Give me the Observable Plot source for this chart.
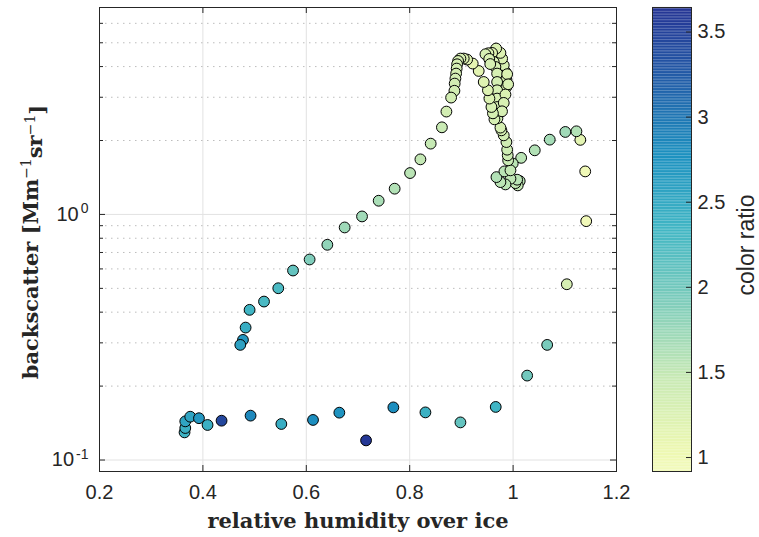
<!DOCTYPE html>
<html><head><meta charset="utf-8">
<script src="https://cdn.jsdelivr.net/npm/d3@7"></script>
<script src="https://cdn.jsdelivr.net/npm/@observablehq/plot@0.6"></script>
<style>
body{margin:0;background:#fff}
#wrap{position:relative;width:759px;height:537px;overflow:hidden}
#wrap svg{position:absolute;left:0;top:0;background:transparent}
</style></head><body><div id="wrap"></div>
<script>
// relative humidity over ice
const rh = [0.3645,0.3659,0.3659,0.3755,0.3924,0.4090,0.4361,0.4922,0.5517,0.6130,0.6639,0.7156,0.7684,0.8304,0.8981,0.9664,
1.0272,1.0659,1.1039,1.1414,1.1395,1.1300,1.1225,1.1010,1.0709,1.0419,1.0156,0.9993,
1.0128,1.0090,1.0045,1.0078,0.9949,0.9852,0.9755,0.9678,0.9832,0.9949,
0.9904,0.9896,0.9885,0.9871,0.9819,0.9774,0.9755,
0.9722,0.9755,0.9832,0.9871,0.9871,0.9852,0.9819,0.9788,0.9755,0.9672,0.9594,0.9523,0.9465,0.9625,0.9658,0.9691,0.9691,0.9691,0.9691,0.9691,0.9697,
0.9885,0.9904,0.9852,0.9819,0.9786,0.9538,0.9558,
0.9639,0.9610,0.9581,0.9542,0.9513,0.9432,0.9335,0.9219,0.9111,0.9045,0.8981,0.8936,0.8917,0.8909,0.8898,0.8884,0.8870,
0.8865,0.8801,0.8710,0.8623,0.8406,0.8207,0.8007,0.7709,0.7400,0.7078,0.6742,0.6407,0.6064,0.5743,0.5458,0.5182,0.4903,0.4826,0.4775,0.4723];
// backscatter [Mm^-1 sr^-1]
const bsc = [0.1296,0.1350,0.1437,0.1501,0.1480,0.1389,0.1446,0.1516,0.1402,0.1456,0.1559,0.1202,0.1638,0.1563,0.1423,0.1645,
0.2207,0.2943,0.5197,0.939,1.497,2.012,2.180,2.167,2.016,1.824,1.700,1.612,
1.367,1.313,1.341,1.385,1.398,1.325,1.354,1.419,1.497,1.512,
1.660,1.740,1.835,1.971,2.099,2.200,2.257,
2.612,2.870,3.105,3.304,3.541,3.803,4.050,4.312,4.547,4.738,4.547,4.533,4.490,4.178,3.986,3.746,3.462,3.203,2.963,2.738,2.462,
3.725,3.388,3.078,2.846,2.630,4.297,4.096,
2.439,2.580,2.738,2.963,3.203,3.462,3.839,4.115,4.272,4.312,4.312,4.217,4.088,3.926,3.746,3.574,3.410,
3.188,2.991,2.623,2.263,1.942,1.676,1.474,1.273,1.137,0.9814,0.8851,0.7523,0.6555,0.5910,0.5006,0.4418,0.4088,0.3462,0.3084,0.2943];
// color ratio
const ratio = [2.38,2.42,2.55,2.55,2.70,2.42,3.45,2.85,2.45,2.80,2.75,3.60,2.80,2.40,2.10,2.35,
2.00,1.95,1.30,0.95,0.97,1.15,1.60,1.70,1.68,1.60,1.55,1.55,
1.55,1.50,1.50,1.55,1.52,1.55,1.55,1.60,1.55,1.50,
1.45,1.40,1.40,1.38,1.35,1.32,1.30,
1.28,1.25,1.22,1.25,1.28,1.30,1.28,1.25,1.22,1.25,1.20,1.25,1.30,1.28,1.30,1.30,1.32,1.30,1.28,1.30,1.35,
1.25,1.28,1.25,1.28,1.30,1.28,1.30,
1.30,1.30,1.28,1.25,1.22,1.20,1.15,1.12,1.20,1.25,1.28,1.30,1.30,1.32,1.32,1.35,1.35,
1.35,1.35,1.35,1.45,1.48,1.50,1.55,1.60,1.65,1.70,1.72,1.80,1.90,2.10,2.27,2.28,2.35,2.45,2.70,2.60];

const xTicks = [0.2,0.4,0.6,0.8,1,1.2];
const xGrid = [0.4,0.6,0.8,1];
const yMajor = [0.1,1];
const yMinor = [0.2,0.3,0.4,0.5,0.6,0.7,0.8,0.9,2,3,4,5,6];
const cTicks = [1,1.5,2,2.5,3,3.5];
const xDomain = [0.2,1.2];
const yDomain = [0.0898,6.96];
const cDomain = [0.918,3.644];
const xLabel = "relative humidity over ice";
const yLabelParts = [["backscatter [Mm",""],["−1","sup"],["sr",""],["−1","sup"],["]",""]];
const cLabel = "color ratio";

const W = 759, H = 537, ML = 99, MR = 143, MT = 7, MB = 66;
const PW = W - ML - MR, PH = H - MT - MB;
const sans = "'Liberation Sans', Arial, Helvetica, sans-serif";
const serif = "'DejaVu Serif', 'Liberation Serif', serif";
const ink = "#262626";

const ylgnbu = d3.piecewise(d3.interpolateRgb, ["#ffffd9","#edf8b1","#c7e9b4","#7fcdbb","#41b6c4","#1d91c0","#225ea8","#253494","#081d58"]);
const cmap = t => ylgnbu(0.09 + 0.785 * t);
const colorScale = {type: "linear", domain: cDomain, interpolate: cmap, clamp: true};

const points = rh.map((x, i) => ({x, y: bsc[i], c: ratio[i]}));

const main = Plot.plot({
  width: W, height: H,
  marginLeft: ML, marginRight: MR, marginTop: MT, marginBottom: MB,
  style: {fontFamily: sans, fontSize: "20px", color: ink, background: "transparent"},
  x: {domain: xDomain, label: null},
  y: {type: "log", domain: yDomain, label: null},
  color: colorScale,
  marks: [
    Plot.ruleX(xGrid, {x: d => d, stroke: "#e2e2e2", strokeWidth: 1}),
    Plot.ruleY(yMajor, {y: d => d, stroke: "#e2e2e2", strokeWidth: 1}),
    Plot.ruleY(yMinor, {y: d => d, stroke: "#bdbdbd", strokeWidth: 1, strokeDasharray: "1.5,4.5"}),
    Plot.tickX(xTicks, {x: d => d, insetTop: PH - 6, stroke: ink}),
    Plot.tickX(xTicks, {x: d => d, insetBottom: PH - 6, stroke: ink}),
    Plot.tickY(yMajor, {y: d => d, insetRight: PW - 6, stroke: ink}),
    Plot.tickY(yMajor, {y: d => d, insetLeft: PW - 6, stroke: ink}),
    Plot.tickY(yMinor, {y: d => d, insetRight: PW - 4, stroke: ink}),
    Plot.tickY(yMinor, {y: d => d, insetLeft: PW - 4, stroke: ink}),
    Plot.dot(points, {x: "x", y: "y", fill: "c", r: 5.4, stroke: "#000", strokeWidth: 1}),
    Plot.frame({stroke: ink, strokeWidth: 1}),
    Plot.axisX(xTicks, {tickSize: 0, tickPadding: 13, fontSize: 20, fill: ink, tickFormat: d => String(d)}),
    Plot.axisY(yMajor, {tickSize: 0, tickPadding: 11, fontSize: 20, fill: ink, tickFormat: d => "10^" + Math.round(Math.log10(d))}),
    Plot.text([xLabel], {frameAnchor: "bottom", dy: 56, text: d => d, fontFamily: serif, fontWeight: "bold", fontSize: 21, fill: ink})
  ]
});

const svg = d3.select(main);
// superscript exponents on the y tick labels
svg.selectAll('g[aria-label="y-axis tick label"] text').each(function() {
  const t = d3.select(this);
  const s = t.text();
  if (s.indexOf("^") < 0) return;
  const [base, ex] = s.split("^");
  t.text(null);
  t.append("tspan").text(base);
  t.append("tspan").attr("dy", "-0.55em").attr("font-size", "14px").attr("dx", "2").text(ex);
});
// y axis label with superscripts
const yl = svg.append("text")
  .attr("transform", `translate(38,${MT + PH / 2 + 3}) rotate(-90)`)
  .attr("text-anchor", "middle")
  .attr("font-family", serif).attr("font-weight", "bold").attr("font-size", 21).attr("fill", ink);
yLabelParts.forEach(([s, kind], i) => {
  const ts = yl.append("tspan").text(s);
  if (kind === "sup") ts.attr("dy", "-0.5em").attr("font-size", 14).attr("font-weight", "normal");
  else if (i > 0 && yLabelParts[i - 1][1] === "sup") ts.attr("dy", "0.5em");
});

// colour bar
const CBL = 652, CBR = 691;
const steps = d3.range(300).map(i => cDomain[0] + (cDomain[1] - cDomain[0]) * i / 300);
const dv = (cDomain[1] - cDomain[0]) / 300;
const cb = Plot.plot({
  width: W, height: H,
  marginLeft: CBL, marginRight: W - CBR, marginTop: MT, marginBottom: MB,
  style: {fontFamily: sans, fontSize: "20px", color: ink, background: "transparent"},
  x: {domain: [0, 1], axis: null},
  y: {domain: cDomain, label: null},
  color: colorScale,
  marks: [
    Plot.rect(steps, {x1: 0, x2: 1, y1: d => d, y2: d => d + dv * 1.02, fill: d => d + dv / 2}),
    Plot.tickY(cTicks, {y: d => d, insetLeft: (CBR - CBL) - 5, stroke: ink}),
    Plot.frame({stroke: ink, strokeWidth: 1}),
    Plot.axisY(cTicks, {anchor: "right", tickSize: 0, tickPadding: 6, fontSize: 20, fill: ink, tickFormat: d => String(d)})
  ]
});
d3.select(cb).append("text")
  .attr("transform", `translate(754,${MT + PH / 2 + 6}) rotate(-90)`)
  .attr("text-anchor", "middle")
  .attr("font-family", sans).attr("font-size", 23).attr("fill", ink)
  .text(cLabel);

const wrap = document.getElementById("wrap");
wrap.appendChild(main);
wrap.appendChild(cb);
</script></body></html>
